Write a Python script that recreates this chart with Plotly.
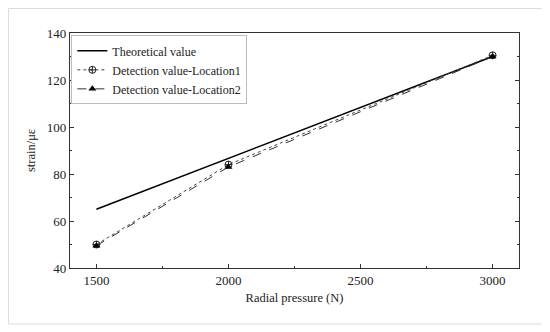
import plotly.graph_objects as go

pressure = [1500, 2000, 3000]
theoretical = [65, 86.7, 130]
location1 = [50, 84, 130.5]
location2 = [49.5, 83, 130]

x_ticks = [1500, 2000, 2500, 3000]
y_ticks = [40, 60, 80, 100, 120, 140]

font_family = "Liberation Serif"

fig = go.Figure()
fig.add_trace(go.Scatter(
    x=pressure, y=theoretical, mode="lines", name="Theoretical value",
    line=dict(color="black", width=1.5)))
fig.add_trace(go.Scatter(
    x=pressure, y=location1, mode="lines+markers", name="Detection value-Location1",
    line=dict(color="#444444", width=1, dash="dot"),
    marker=dict(symbol="circle-cross-open", size=7, color="#222222", line=dict(width=1))))
fig.add_trace(go.Scatter(
    x=pressure, y=location2, mode="lines+markers", name="Detection value-Location2",
    line=dict(color="#333333", width=1, dash="dash"),
    marker=dict(symbol="triangle-up", size=7, color="black")))

axis_common = dict(
    showgrid=False, zeroline=False, showline=True, linecolor="#333333", linewidth=1.2,
    ticks="inside", ticklen=4, tickcolor="#333333", automargin=False,
    tickfont=dict(family=font_family, size=13, color="#222222"),
)

fig.update_xaxes(
    range=[1400, 3100], tickvals=x_ticks, mirror=True,
    minor=dict(ticks="inside", ticklen=2, dtick=250, tick0=1500, tickcolor="#333333"),
    title=dict(text="Radial pressure (N)", font=dict(family=font_family, size=12.5, color="#222222"), standoff=6),
    **axis_common)
fig.update_yaxes(
    range=[40, 140], tickvals=y_ticks, mirror="ticks",
    minor=dict(ticks="inside", ticklen=2, dtick=10, tick0=40, tickcolor="#333333"),
    title=dict(text="strain/με", font=dict(family=font_family, size=12.5, color="#222222"), standoff=8),
    **axis_common)

fig.update_layout(
    width=542, height=324,
    margin=dict(l=62, r=31, t=25, b=64, autoexpand=False),
    paper_bgcolor="white", plot_bgcolor="white",
    font=dict(family=font_family, size=13, color="#222222"),
    showlegend=True,
    legend=dict(
        x=0.003, y=0.99, xanchor="left", yanchor="top",
        bgcolor="white", bordercolor="#bbbbbb", borderwidth=1,
        font=dict(family=font_family, size=12, color="#222222"),
        tracegroupgap=0, itemwidth=30,
    ),
    shapes=[dict(type="rect", xref="paper", yref="paper",
                 x0=-61.5/449, x1=1 + 26/449, y0=-56/235, y1=1 + 24.5/235,
                 line=dict(color="#dddddd", width=1), fillcolor="rgba(0,0,0,0)", layer="below")],
)

fig.write_html("out.html")
